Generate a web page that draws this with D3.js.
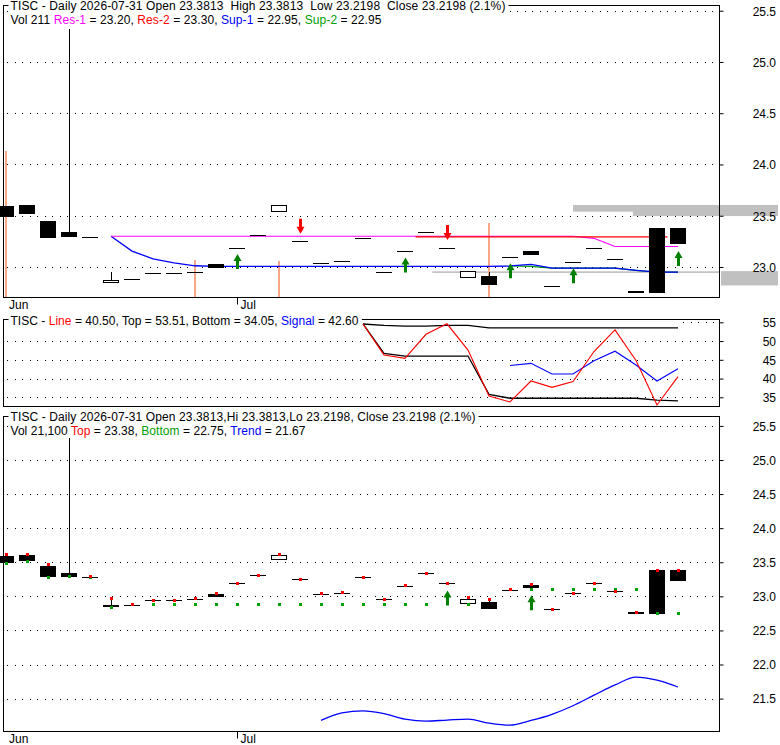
<!DOCTYPE html>
<html><head><meta charset="utf-8">
<script src="https://cdn.jsdelivr.net/npm/d3@7"></script>
<style>
body{margin:0;background:#fff}
svg{display:block}
text{font-family:"Liberation Sans",Arial,sans-serif;font-size:12px}
</style>
</head><body>
<svg id="c" width="780" height="745"></svg>
<script>
// ---------------- DATA ----------------
const dates = ["2026-06-15","2026-06-16","2026-06-17","2026-06-18","2026-06-22","2026-06-23","2026-06-24","2026-06-25","2026-06-26","2026-06-29","2026-06-30","2026-07-01","2026-07-02","2026-07-06","2026-07-07","2026-07-08","2026-07-09","2026-07-10","2026-07-13","2026-07-14","2026-07-15","2026-07-16","2026-07-17","2026-07-20","2026-07-21","2026-07-22","2026-07-23","2026-07-24","2026-07-27","2026-07-28","2026-07-29","2026-07-30","2026-07-31"];
const openP  = [23.595,23.605,23.45,23.345,23.29,22.84,22.88,22.945,22.945,22.955,23.03,23.19,23.31,23.535,23.25,23.04,23.055,23.28,22.955,23.155,23.34,23.19,22.89,22.915,23.10,23.16,22.815,23.05,23.19,23.08,22.745,23.3813,23.3813];
const highP  = [23.595,23.605,23.45,25.32,23.29,22.95,22.88,22.945,22.945,22.955,23.03,23.19,23.31,23.60,23.25,23.04,23.055,23.28,22.955,23.155,23.34,23.19,22.965,22.95,23.10,23.16,22.815,23.05,23.19,23.08,22.765,23.3813,23.3813];
const lowP   = [23.49,23.52,23.285,23.29,23.29,22.84,22.88,22.945,22.945,22.955,22.99,23.19,23.31,23.535,23.25,23.04,23.055,23.28,22.955,23.155,23.34,23.19,22.89,22.82,23.10,23.12,22.815,23.05,23.19,23.08,22.745,22.745,23.2198];
const closeP = [23.49,23.52,23.285,23.29,23.29,22.875,22.88,22.945,22.945,22.955,22.99,23.19,23.31,23.60,23.25,23.04,23.055,23.28,22.955,23.155,23.34,23.19,22.965,22.82,23.10,23.12,22.815,23.05,23.19,23.08,22.765,22.745,23.2198];
const volume = [400000,0,0,0,0,0,0,0,0,103500,0,0,0,100800,0,0,0,0,0,0,0,0,0,202500,0,0,0,0,0,0,0,0,211];

const res1 = [null,null,null,null,null,23.30,23.30,23.30,23.30,23.30,23.30,23.30,23.30,23.30,23.30,23.30,23.30,23.30,23.30,23.30,23.30,23.30,23.30,23.30,23.30,23.30,23.30,23.30,23.28,23.20,23.20,23.20,23.20];
const res2Level = 23.30, res2From = 19.5, res2To = 31.5;
const sup1 = [null,null,null,null,null,23.30,23.155,23.08,23.04,23.012,23.007,23.007,23.007,23.007,23.007,23.007,23.007,23.007,23.007,23.007,23.007,23.007,23.007,23.007,23.01,23.026,22.99,22.99,22.99,22.99,22.968,22.95,22.95];
const sup2 = [null,null,null,null,null,null,null,null,null,null,null,null,null,null,null,null,null,null,null,null,null,null,null,null,23.01,23.006,22.99,22.99,22.99,22.99,22.968,22.95,22.95];
const upArrowsTop = [11,19,24,27,32];
const downArrowsTop = [14,21];
// grey price zones (start index, high, low)
const zoneStart = [27, 29.85, 20.3];
const zoneHigh  = [23.605, 23.605, 22.958];
const zoneLow   = [23.54, 23.497, 22.942];
const sideBlockHigh = 22.96, sideBlockLow = 22.82;

const oscLine   = [null,null,null,null,null,null,null,null,null,null,null,null,null,null,null,null,null,54.55,46.3,45.4,51.8,54.6,47.6,35.35,33.75,39.35,37.65,39.2,47.2,52.95,44.8,32.95,40.5];
const oscSignal = [null,null,null,null,null,null,null,null,null,null,null,null,null,null,null,null,null,null,null,null,null,null,null,null,43.5,44.05,41.2,41.2,44.75,47.3,43.6,39.35,42.6];
const oscTop    = [null,null,null,null,null,null,null,null,null,null,null,null,null,null,null,null,null,54.55,54.2,54.0,54.0,54.2,54.2,53.51,53.51,53.51,53.51,53.51,53.51,53.51,53.51,53.51,53.51];
const oscBottom = [null,null,null,null,null,null,null,null,null,null,null,null,null,null,null,null,null,54.55,46.7,46.0,46.0,46.0,46.0,35.8,34.75,34.75,34.75,34.75,34.75,34.75,34.75,34.27,34.05];

const topDots    = [23.62,23.617,23.476,null,23.30,22.977,22.888,22.947,22.947,22.977,23.044,23.197,23.314,23.617,23.255,23.05,23.065,23.285,22.96,23.167,23.344,23.197,22.99,22.966,23.108,23.176,22.815,23.05,23.197,23.08,22.775,23.38,23.38];
const bottomDots = [23.49,23.52,23.285,23.295,23.29,22.84,22.89,22.89,22.89,22.89,22.89,22.89,22.89,22.89,22.89,22.89,22.89,22.89,22.89,22.89,22.89,null,22.89,null,null,23.11,23.11,23.11,23.11,23.11,23.11,22.75,22.75];
const trend = [null,null,null,null,null,null,null,null,null,null,null,null,null,null,null,21.18,21.29,21.32,21.28,21.20,21.17,21.185,21.20,21.14,21.11,21.18,21.27,21.395,21.55,21.70,21.815,21.77,21.67];
const upArrowsBottom = [21,25];

const priceTicks = [25.5,25.0,24.5,24.0,23.5,23.0];
const oscTicks = [55,50,45,40,35];
const lowerTicks = [25.5,25.0,24.5,24.0,23.5,23.0,22.5,22.0,21.5];

// ---------------- SCALES ----------------
const svg = d3.select("#c");
const x = d3.scaleLinear().domain([0, dates.length - 1]).range([6, 678]);
const yTop = d3.scaleLinear().domain([23, 25.5]).range([267, 10.7]);
const yOsc = d3.scaleLinear().domain([35, 55]).range([397.3, 322.3]);
const yLow = d3.scaleLinear().domain([21.5, 25.5]).range([698.6, 425.9]);

const L = 3.5, R = 719.5;
const panels = {
  top: {y0: 5.5, y1: 297.5},
  osc: {y0: 319.5, y1: 406.5},
  low: {y0: 416.5, y1: 731.5}
};
const GREEN = "#008000";

function grid(g, yS, ticks, startX) {
  g.append("g").selectAll("line").data(ticks).join("line")
    .attr("x1", (d, i) => (startX && i === 0) ? startX : 7).attr("x2", R - 1)
    .attr("y1", d => Math.round(yS(d)) + 0.5).attr("y2", d => Math.round(yS(d)) + 0.5)
    .attr("stroke", "#000").attr("stroke-width", 1)
    .attr("stroke-dasharray", "1,6.5").attr("shape-rendering", "crispEdges");
}
function frame(p) {
  svg.append("rect").attr("x", L).attr("y", p.y0).attr("width", R - L).attr("height", p.y1 - p.y0)
    .attr("fill", "none").attr("stroke", "#000").attr("shape-rendering", "crispEdges");
}
function rightAxis(yS, ticks, fmt) {
  const g = svg.append("g").attr("transform", `translate(${R},0)`)
    .call(d3.axisRight(yS).tickValues(ticks).tickSize(4).tickFormat(fmt));
  g.select(".domain").remove();
  g.selectAll(".tick line").attr("stroke", "#000");
  g.selectAll(".tick text").attr("x", 56.5).attr("text-anchor", "end").attr("dy", "0.36em")
    .attr("fill", "#000").style("font-family", '"Liberation Sans",Arial,sans-serif').style("font-size", "12px");
}
function bottomAxis(yPos) {
  const months = [];
  dates.forEach((d, i) => {
    const m = d.slice(0, 7);
    if (!months.find(o => o.m === m)) months.push({m, i});
  });
  const names = {"06": "Jun", "07": "Jul"};
  const tickIdx = months.filter(o => o.i > 0).map(o => o.i);
  const g = svg.append("g").attr("transform", `translate(0,${yPos})`)
    .call(d3.axisBottom(x).tickValues(tickIdx).tickSize(7)
      .tickFormat(i => names[dates[i].slice(5, 7)]));
  g.select(".domain").remove();
  g.selectAll(".tick line").attr("stroke", "#000");
  g.selectAll(".tick text").attr("x", 3).attr("y", 3).attr("text-anchor", "start").attr("fill", "#000")
    .style("font-family", '"Liberation Sans",Arial,sans-serif').style("font-size", "12px");
  months.filter(o => o.i === 0).forEach(o => {
    svg.append("text").attr("x", x(0) + 3).attr("y", yPos + 11.5).text(names[o.m.slice(5, 7)]);
  });
}
function candles(g, yS) {
  const cg = g.append("g").attr("shape-rendering", "crispEdges");
  dates.forEach((d, i) => {
    const O = openP[i], H = highP[i], Lo = lowP[i], C = closeP[i];
    const cx = Math.round(x(i));
    const top = Math.max(O, C), bot = Math.min(O, C);
    if (H > top + 1e-4 || Lo < bot - 1e-4) {
      cg.append("line").attr("x1", cx + 0.5).attr("x2", cx + 0.5)
        .attr("y1", yS(H)).attr("y2", yS(Lo)).attr("stroke", "#000");
    }
    if (Math.abs(O - C) < 1e-4) {
      const yy = Math.round(yS(C)) + 0.5;
      cg.append("line").attr("x1", cx - 8).attr("x2", cx + 8).attr("y1", yy).attr("y2", yy).attr("stroke", "#000");
    } else if (C < O) {
      const y0 = Math.round(yS(top)), y1 = Math.round(yS(bot));
      cg.append("rect").attr("x", cx - 8).attr("y", y0).attr("width", 16).attr("height", Math.max(1, y1 - y0)).attr("fill", "#000");
    } else {
      const y0 = Math.round(yS(top)), y1 = Math.round(yS(bot));
      cg.append("rect").attr("x", cx - 7.5).attr("y", y0 + 0.5).attr("width", 15).attr("height", Math.max(1, y1 - y0 - 1))
        .attr("fill", "#fff").attr("stroke", "#000");
    }
  });
}
function arrow(g, i, tipY, dir, color) {
  const cx = x(i) + 0.5;
  const pts = [[0,0],[4,7],[1.5,7],[1.5,15],[-1.5,15],[-1.5,7],[-4,7]];
  g.append("path").attr("d", "M" + pts.map(p => [cx + p[0], tipY + dir * p[1]].join(",")).join("L") + "Z")
    .attr("fill", color);
}
function seriesLine(g, data, yS, color, w, curve) {
  const ln = d3.line().defined(d => d != null).x((d, i) => x(i)).y(d => yS(d)).curve(curve || d3.curveLinear);
  g.append("path").attr("d", ln(data)).attr("fill", "none").attr("stroke", color).attr("stroke-width", w);
}
function dots(g, data, yS, color) {
  g.append("g").attr("shape-rendering", "crispEdges").selectAll("rect")
    .data(data.map((v, i) => ({v, i})).filter(d => d.v != null)).join("rect")
    .attr("x", d => x(d.i) - 1).attr("y", d => Math.round(yS(d.v)) - 1)
    .attr("width", 3).attr("height", 3).attr("fill", color);
}
function fitText(t, target) {
  const node = t.node();
  const len = node.getComputedTextLength();
  const n = node.textContent.length;
  t.attr("letter-spacing", ((target - len) / n).toFixed(3) + "px");
}
function header(xp, yp, parts, target, bg) {
  const t = svg.append("text").attr("x", xp).attr("y", yp).style("white-space", "pre");
  parts.forEach(([s, c]) => t.append("tspan").attr("fill", c).text(s));
  fitText(t, target);
  if (bg) {
    const b = t.node().getBBox();
    svg.insert("rect", () => t.node()).attr("x", xp - 2).attr("y", bg[0])
      .attr("width", b.width + 5).attr("height", bg[1] - bg[0]).attr("fill", "#fff");
  }
}

// ---------------- TOP PANEL ----------------
const gTop = svg.append("g");
zoneStart.forEach((s, k) => {
  const right = k < 2 ? 778 : R;
  gTop.append("rect").attr("x", x(s)).attr("y", yTop(zoneHigh[k]))
    .attr("width", right - x(s)).attr("height", yTop(zoneLow[k]) - yTop(zoneHigh[k])).attr("fill", "#c0c0c0");
});
gTop.append("rect").attr("x", R + 1.5).attr("y", yTop(sideBlockHigh)).attr("width", 778 - R - 1.5)
  .attr("height", yTop(sideBlockLow) - yTop(sideBlockHigh)).attr("fill", "#c0c0c0");
grid(gTop, yTop, priceTicks);
const vScale = d3.scaleLinear().domain([0, 400000]).range([panels.top.y1, 151]);
gTop.append("g").selectAll("rect").data(volume).join("rect")
  .attr("x", (d, i) => x(i) - 1).attr("width", 2)
  .attr("y", d => vScale(d)).attr("height", d => panels.top.y1 - vScale(d))
  .attr("fill", "#f8a886").attr("shape-rendering", "crispEdges");
seriesLine(gTop, sup2, yTop, "#00a000", 1.3);
seriesLine(gTop, sup1, yTop, "#0000ff", 1.3);
seriesLine(gTop, res1, yTop, "#ff00ff", 1.2);
gTop.append("line").attr("x1", x(res2From)).attr("x2", x(res2To))
  .attr("y1", yTop(res2Level) + 0.7).attr("y2", yTop(res2Level) + 0.7).attr("stroke", "#ff0000").attr("stroke-width", 1.2);
candles(gTop, yTop);
upArrowsTop.forEach(i => arrow(gTop, i, yTop(lowP[i]) + 6.5, 1, GREEN));
downArrowsTop.forEach(i => arrow(gTop, i, yTop(highP[i]) - 7.5, -1, "#ff0000"));
frame(panels.top);
rightAxis(yTop, priceTicks, d3.format(".1f"));
bottomAxis(panels.top.y1);

// ---------------- OSC PANEL ----------------
const gOsc = svg.append("g");
grid(gOsc, yOsc, oscTicks, x(32) + 5);
seriesLine(gOsc, oscTop, yOsc, "#000", 1.3);
seriesLine(gOsc, oscBottom, yOsc, "#000", 1.3);
seriesLine(gOsc, oscSignal, yOsc, "#0000ff", 1.1);
seriesLine(gOsc, oscLine, yOsc, "#ff0000", 1.1);
frame(panels.osc);
rightAxis(yOsc, oscTicks, d3.format("d"));

// ---------------- LOWER PANEL ----------------
const gLow = svg.append("g");
grid(gLow, yLow, lowerTicks);
seriesLine(gLow, trend, yLow, "#0000ff", 1.3, d3.curveMonotoneX);
candles(gLow, yLow);
dots(gLow, bottomDots, yLow, "#00a000");
dots(gLow, topDots, yLow, "#ff0000");
upArrowsBottom.forEach(i => arrow(gLow, i, yLow(lowP[i]) + 7, 1, GREEN));
frame(panels.low);
rightAxis(yLow, lowerTicks, d3.format(".1f"));
bottomAxis(panels.low.y1);

// ---------------- HEADERS ----------------
const K = "#000";
header(10.5, 10, [["TISC - Daily 2026-07-31 Open 23.3813  High 23.3813  Low 23.2198  Close 23.2198 (2.1%)", K]], 495, [0, 12]);
header(10.5, 23.5, [["Vol 211 ", K], ["Res-1", "#ff00ff"], [" = 23.20, ", K], ["Res-2", "#ff0000"], [" = 23.30, ", K], ["Sup-1", "#0000ff"], [" = 22.95, ", K], ["Sup-2", "#00a000"], [" = 22.95", K]], 371);
header(10.5, 325, [["TISC - ", K], ["Line", "#ff0000"], [" = 40.50, Top = 53.51, Bottom = 34.05, ", K], ["Signal", "#0000ff"], [" = 42.60", K]], 348, [314, 324]);
header(10.5, 420.5, [["TISC - Daily 2026-07-31 Open 23.3813,Hi 23.3813,Lo 23.2198, Close 23.2198 (2.1%)", K]], 465, [411, 427.5]);
header(10.5, 435, [["Vol 21,100 ", K], ["Top", "#ff0000"], [" = 23.38, ", K], ["Bottom", "#00a000"], [" = 22.75, ", K], ["Trend", "#0000ff"], [" = 21.67", K]], 295);
</script>
</body></html>
